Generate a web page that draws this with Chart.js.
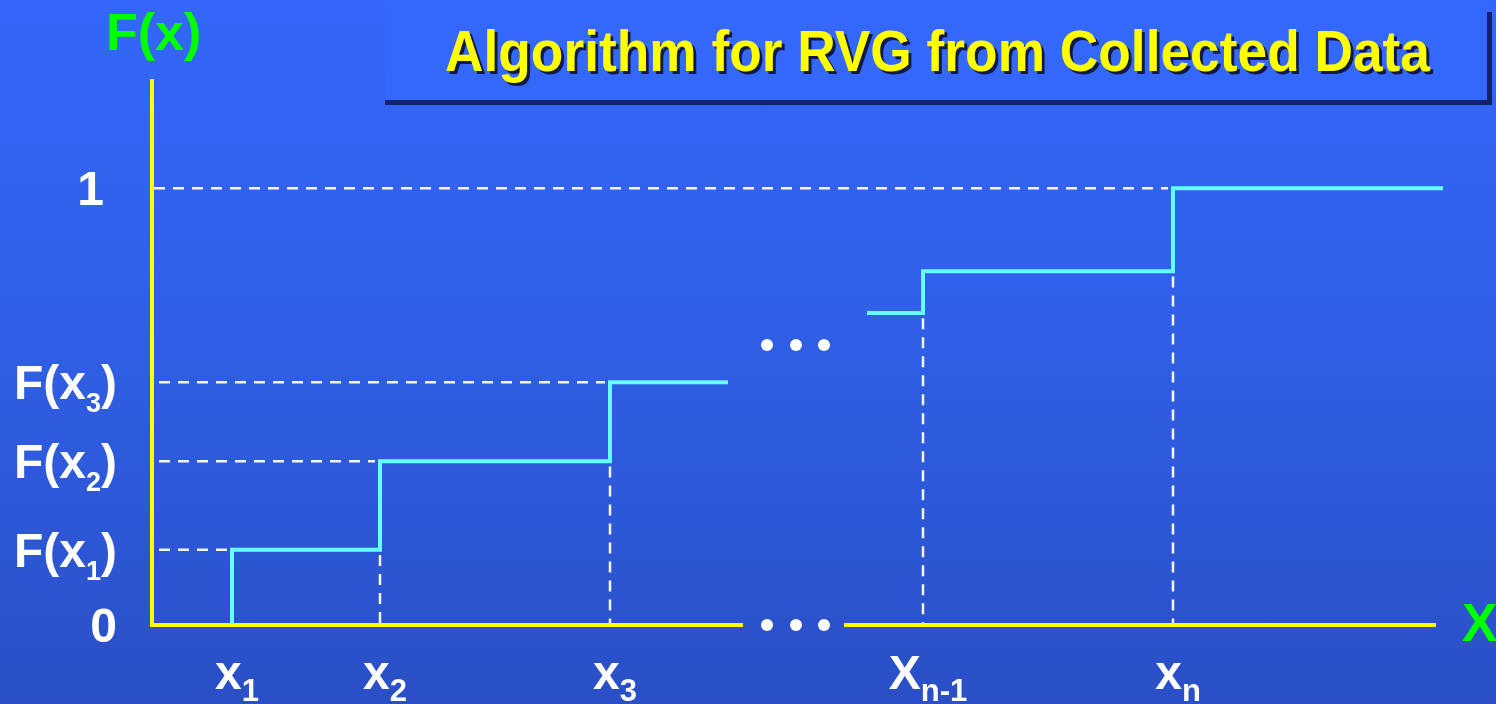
<!DOCTYPE html>
<html>
<head>
<meta charset="utf-8">
<script src="https://cdn.jsdelivr.net/npm/chart.js@4.4.0/dist/chart.umd.min.js"></script>
<style>
  html, body { margin: 0; padding: 0; }
  body { width: 1496px; height: 704px; overflow: hidden;
         background: linear-gradient(to bottom, #3467fa 0%, #3060e8 45%, #2a4fc6 100%); }
  #wrap { position: relative; width: 1496px; height: 704px; }
</style>
</head>
<body>
<div id="wrap"><canvas id="myChart"></canvas></div>
<script>
// jump points x_i and F(x_i), left and right branch of the step function
const leftJumps = [0.80, 2.28, 4.58];
const leftLevels = [0.172, 0.375, 0.556];
const leftEnd = 5.76;
const rightStart = 7.15;
const rightStartLevel = 0.714;
const rightJumps = [7.71, 10.21];
const rightLevels = [0.81, 1];
const rightEnd = 12.91;

// ellipsis dots
const dotsX = [6.15, 6.44, 6.72];
const dotsY = [0.641, 0];

// x axis is broken around the dots
const axisSegments = [[-0.02, 5.91], [6.92, 12.84]];
const axisTop = 1.25;

// tick labels: [main, subscript, tail]
const xTicks = [0.80, 2.28, 4.58, 7.71, 10.21];
const xTickLabels = [['x', '1', ''], ['x', '2', ''], ['x', '3', ''], ['X', 'n-1', ''], ['x', 'n', '']];
const yTicks = [0, 0.172, 0.375, 0.556, 1];
const yTickLabels = [['0', '', ''], ['F(x', '1', ')'], ['F(x', '2', ')'], ['F(x', '3', ')'], ['1', '', '']];

const titleText = 'Algorithm for RVG from Collected Data';
const yAxisTitle = 'F(x)';
const xAxisTitle = 'X';

const CYAN = '#66ffff';
const YELLOW = '#ffff00';
const GREEN = '#00ff00';
const FONT = '"Liberation Sans", Arial, sans-serif';

// step branches (stepped 'before' -> horizontal then vertical)
const leftPts = [{ x: leftJumps[0], y: 0 }];
leftJumps.forEach((x, i) => leftPts.push({ x: x, y: leftLevels[i] }));
leftPts.push({ x: leftEnd, y: leftLevels[leftLevels.length - 1] });

const rightPts = [{ x: rightStart, y: rightStartLevel }];
rightJumps.forEach((x, i) => rightPts.push({ x: x, y: rightLevels[i] }));
rightPts.push({ x: rightEnd, y: rightLevels[rightLevels.length - 1] });

const datasets = [];

datasets.push({ data: leftPts, showLine: true, stepped: true, borderColor: CYAN, borderWidth: 4,
  pointRadius: 0, clip: false, order: 1 });
datasets.push({ data: rightPts, showLine: true, stepped: true, borderColor: CYAN, borderWidth: 4,
  pointRadius: 0, clip: false, order: 1 });

// yellow axes
datasets.push({ data: [{ x: 0, y: 0 }, { x: 0, y: axisTop }], showLine: true, borderColor: YELLOW,
  borderWidth: 4, pointRadius: 0, clip: false, order: 0 });
axisSegments.forEach(s => {
  datasets.push({ data: [{ x: s[0], y: 0 }, { x: s[1], y: 0 }], showLine: true, borderColor: YELLOW,
    borderWidth: 4, pointRadius: 0, clip: false, order: 0 });
});

// dashed guides
const allJumps = leftJumps.concat(rightJumps);
const allLevels = leftLevels.concat(rightLevels);
const prevLevels = [0].concat(leftLevels.slice(0, -1)).concat([rightStartLevel, rightLevels[0]]);
const dash = { showLine: true, borderColor: 'rgba(255,255,255,0.95)', borderWidth: 2.5,
  borderDash: [11, 8], pointRadius: 0, clip: false, order: 2 };
allJumps.forEach((x, i) => {
  // horizontal guide only for levels that carry a y label
  if (yTicks.indexOf(allLevels[i]) >= 0) {
    const x0 = allLevels[i] === 1 ? 0.02 : 0.07;
    datasets.push(Object.assign({}, dash, { data: [{ x: x0, y: allLevels[i] }, { x: x - 0.05, y: allLevels[i] }] }));
  }
  if (prevLevels[i] > 0) {
    datasets.push(Object.assign({}, dash, { data: [{ x: x, y: prevLevels[i] - 0.012 }, { x: x, y: 0 }] }));
  }
});

// dots
const dots = [];
dotsY.forEach(y => dotsX.forEach(x => dots.push({ x: x, y: y })));
datasets.push({ data: dots, showLine: false, pointRadius: 6, pointBackgroundColor: '#ffffff',
  pointBorderWidth: 0, clip: false, order: 0 });

function drawSubLabel(ctx, parts, x, y, size, subSize, subDrop, align) {
  ctx.font = 'bold ' + size + 'px ' + FONT;
  const w1 = ctx.measureText(parts[0]).width;
  const w3 = ctx.measureText(parts[2]).width;
  ctx.font = 'bold ' + subSize + 'px ' + FONT;
  const w2 = ctx.measureText(parts[1]).width;
  const total = w1 + w2 + w3;
  let sx = x;
  if (align === 'right') sx = x - total;
  if (align === 'center') sx = x - total / 2;
  ctx.textAlign = 'left';
  ctx.textBaseline = 'alphabetic';
  ctx.font = 'bold ' + size + 'px ' + FONT;
  ctx.fillText(parts[0], sx, y);
  ctx.font = 'bold ' + subSize + 'px ' + FONT;
  ctx.fillText(parts[1], sx + w1, y + subDrop);
  ctx.font = 'bold ' + size + 'px ' + FONT;
  ctx.fillText(parts[2], sx + w1 + w2, y);
}

const decorPlugin = {
  id: 'decor',
  beforeDatasetsDraw(chart) {
    const ctx = chart.ctx;
    ctx.save();
    // title box
    ctx.fillStyle = '#3468fb';
    ctx.fillRect(385, 0, 1102, 100);
    ctx.fillStyle = '#13226e';
    ctx.fillRect(385, 100, 1107, 5);
    ctx.fillRect(1487, 12, 5, 93);
    ctx.restore();
  },
  afterDraw(chart) {
    const ctx = chart.ctx;
    const xs = chart.scales.x, ys = chart.scales.y;
    ctx.save();

    // title, slightly condensed
    ctx.font = 'bold 55px ' + FONT;
    const tw = ctx.measureText(titleText).width;
    const sxs = 985 / tw;
    ctx.textBaseline = 'alphabetic';
    ctx.textAlign = 'left';
    ctx.save();
    ctx.translate(445, 71);
    ctx.scale(sxs, 1.04);
    ctx.fillStyle = '#10194a';
    ctx.fillText(titleText, 3, 3);
    ctx.fillStyle = YELLOW;
    ctx.fillText(titleText, 0, 0);
    ctx.restore();

    // axis titles
    ctx.fillStyle = GREEN;
    ctx.font = 'bold 52px ' + FONT;
    ctx.fillText(yAxisTitle, 106, 50);
    ctx.font = 'bold 53px ' + FONT;
    ctx.fillText(xAxisTitle, 1462, 641);

    // y tick labels
    ctx.fillStyle = '#ffffff';
    yTicks.forEach((v, i) => {
      const py = ys.getPixelForValue(v);
      const lab = yTickLabels[i];
      const rx = lab[0] === '1' ? 104 : 117;
      drawSubLabel(ctx, lab, rx, py + 17, 48, 27, 13, 'right');
    });

    // x tick labels
    xTicks.forEach((v, i) => {
      const px = xs.getPixelForValue(v);
      drawSubLabel(ctx, xTickLabels[i], px + 5, 689, 48, 31, 12, 'center');
    });
    ctx.restore();
  }
};

const ctx = document.getElementById('myChart').getContext('2d');

const myChart = new Chart(ctx, {
  type: 'scatter',
  data: { datasets: datasets },
  options: {
    responsive: true,
    maintainAspectRatio: false,
    animation: false,
    layout: { padding: { left: 152, right: 44, top: 79, bottom: 79 } },
    elements: { line: { borderCapStyle: 'butt', borderJoinStyle: 'miter', tension: 0 } },
    scales: {
      x: { type: 'linear', min: 0, max: 13, display: false },
      y: { type: 'linear', min: 0, max: 1.25, display: false }
    },
    plugins: {
      legend: { display: false },
      tooltip: { enabled: false },
      title: { display: false }
    }
  },
  plugins: [decorPlugin]
});
</script>
</body>
</html>
